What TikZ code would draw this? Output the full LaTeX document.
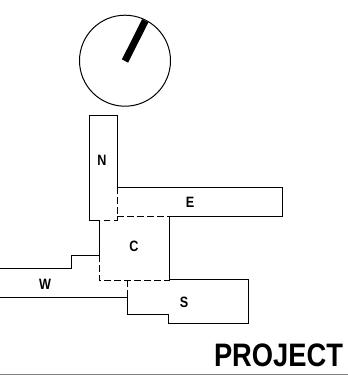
\documentclass[tikz,border=0pt]{standalone}
\usepackage{graphicx}
\usepackage{fontspec}
\setmainfont{Liberation Sans}
\newcommand{\narrowtext}[1]{\scalebox{0.84}[1]{#1}}
\tikzset{
  roomlabel/.style={font=\bfseries\fontsize{15}{15}\selectfont, inner sep=0pt},
  hidden/.style={dash pattern=on 6.5pt off 3.5pt},
}
\begin{document}
\begin{tikzpicture}[x=1pt, y=-1pt, line width=1pt]
\useasboundingbox (0,0) rectangle (348,375);

% Dial
\draw (125,60.7) circle (45.5);
\draw [line width=7pt] (125,61) -- (145.3,20.7);

% Solid outlines
\draw (117.3,187.3) -- (117.3,115.3) -- (89,115.3) -- (89,220.3) -- (99,220.3);
\draw (117.3,187.3) -- (282.7,187.3) -- (282.7,216.7) -- (169.5,216.7) -- (169.5,279.7) -- (248.7,279.7) -- (248.7,323.3) -- (168.7,323.3) -- (168.7,314.3) -- (127,314.3) -- (127,297) -- (0,297);
\draw (99,220.3) -- (99,255) -- (71.7,255) -- (71.7,268.3) -- (0,268.3);

% Hidden edges
\draw [hidden] (117.3,187.3) -- (117.3,220.3) -- (99,220.3);
\draw [hidden] (117.3,216.7) -- (169.5,216.7);
\draw [hidden] (99,255) -- (99,280) -- (169.5,280);
\draw [hidden] (127,280) -- (127,297);

% Labels
\node [roomlabel] (north) at (102,160) {\narrowtext{N}};
\node [roomlabel] (east) at (190,202) {\narrowtext{E}};
\node [roomlabel] (core) at (134,246) {\narrowtext{C}};
\node [roomlabel] (west) at (45,284) {\narrowtext{W}};
\node [roomlabel] (south) at (184,302.5) {\narrowtext{S}};
\node [font=\bfseries\fontsize{32.5}{32.5}\selectfont, inner sep=0pt] (title) at (278.5,355) {\narrowtext{PROJECT}};

\draw [gray] (0,374) -- (348,374);
\end{tikzpicture}
\end{document}
